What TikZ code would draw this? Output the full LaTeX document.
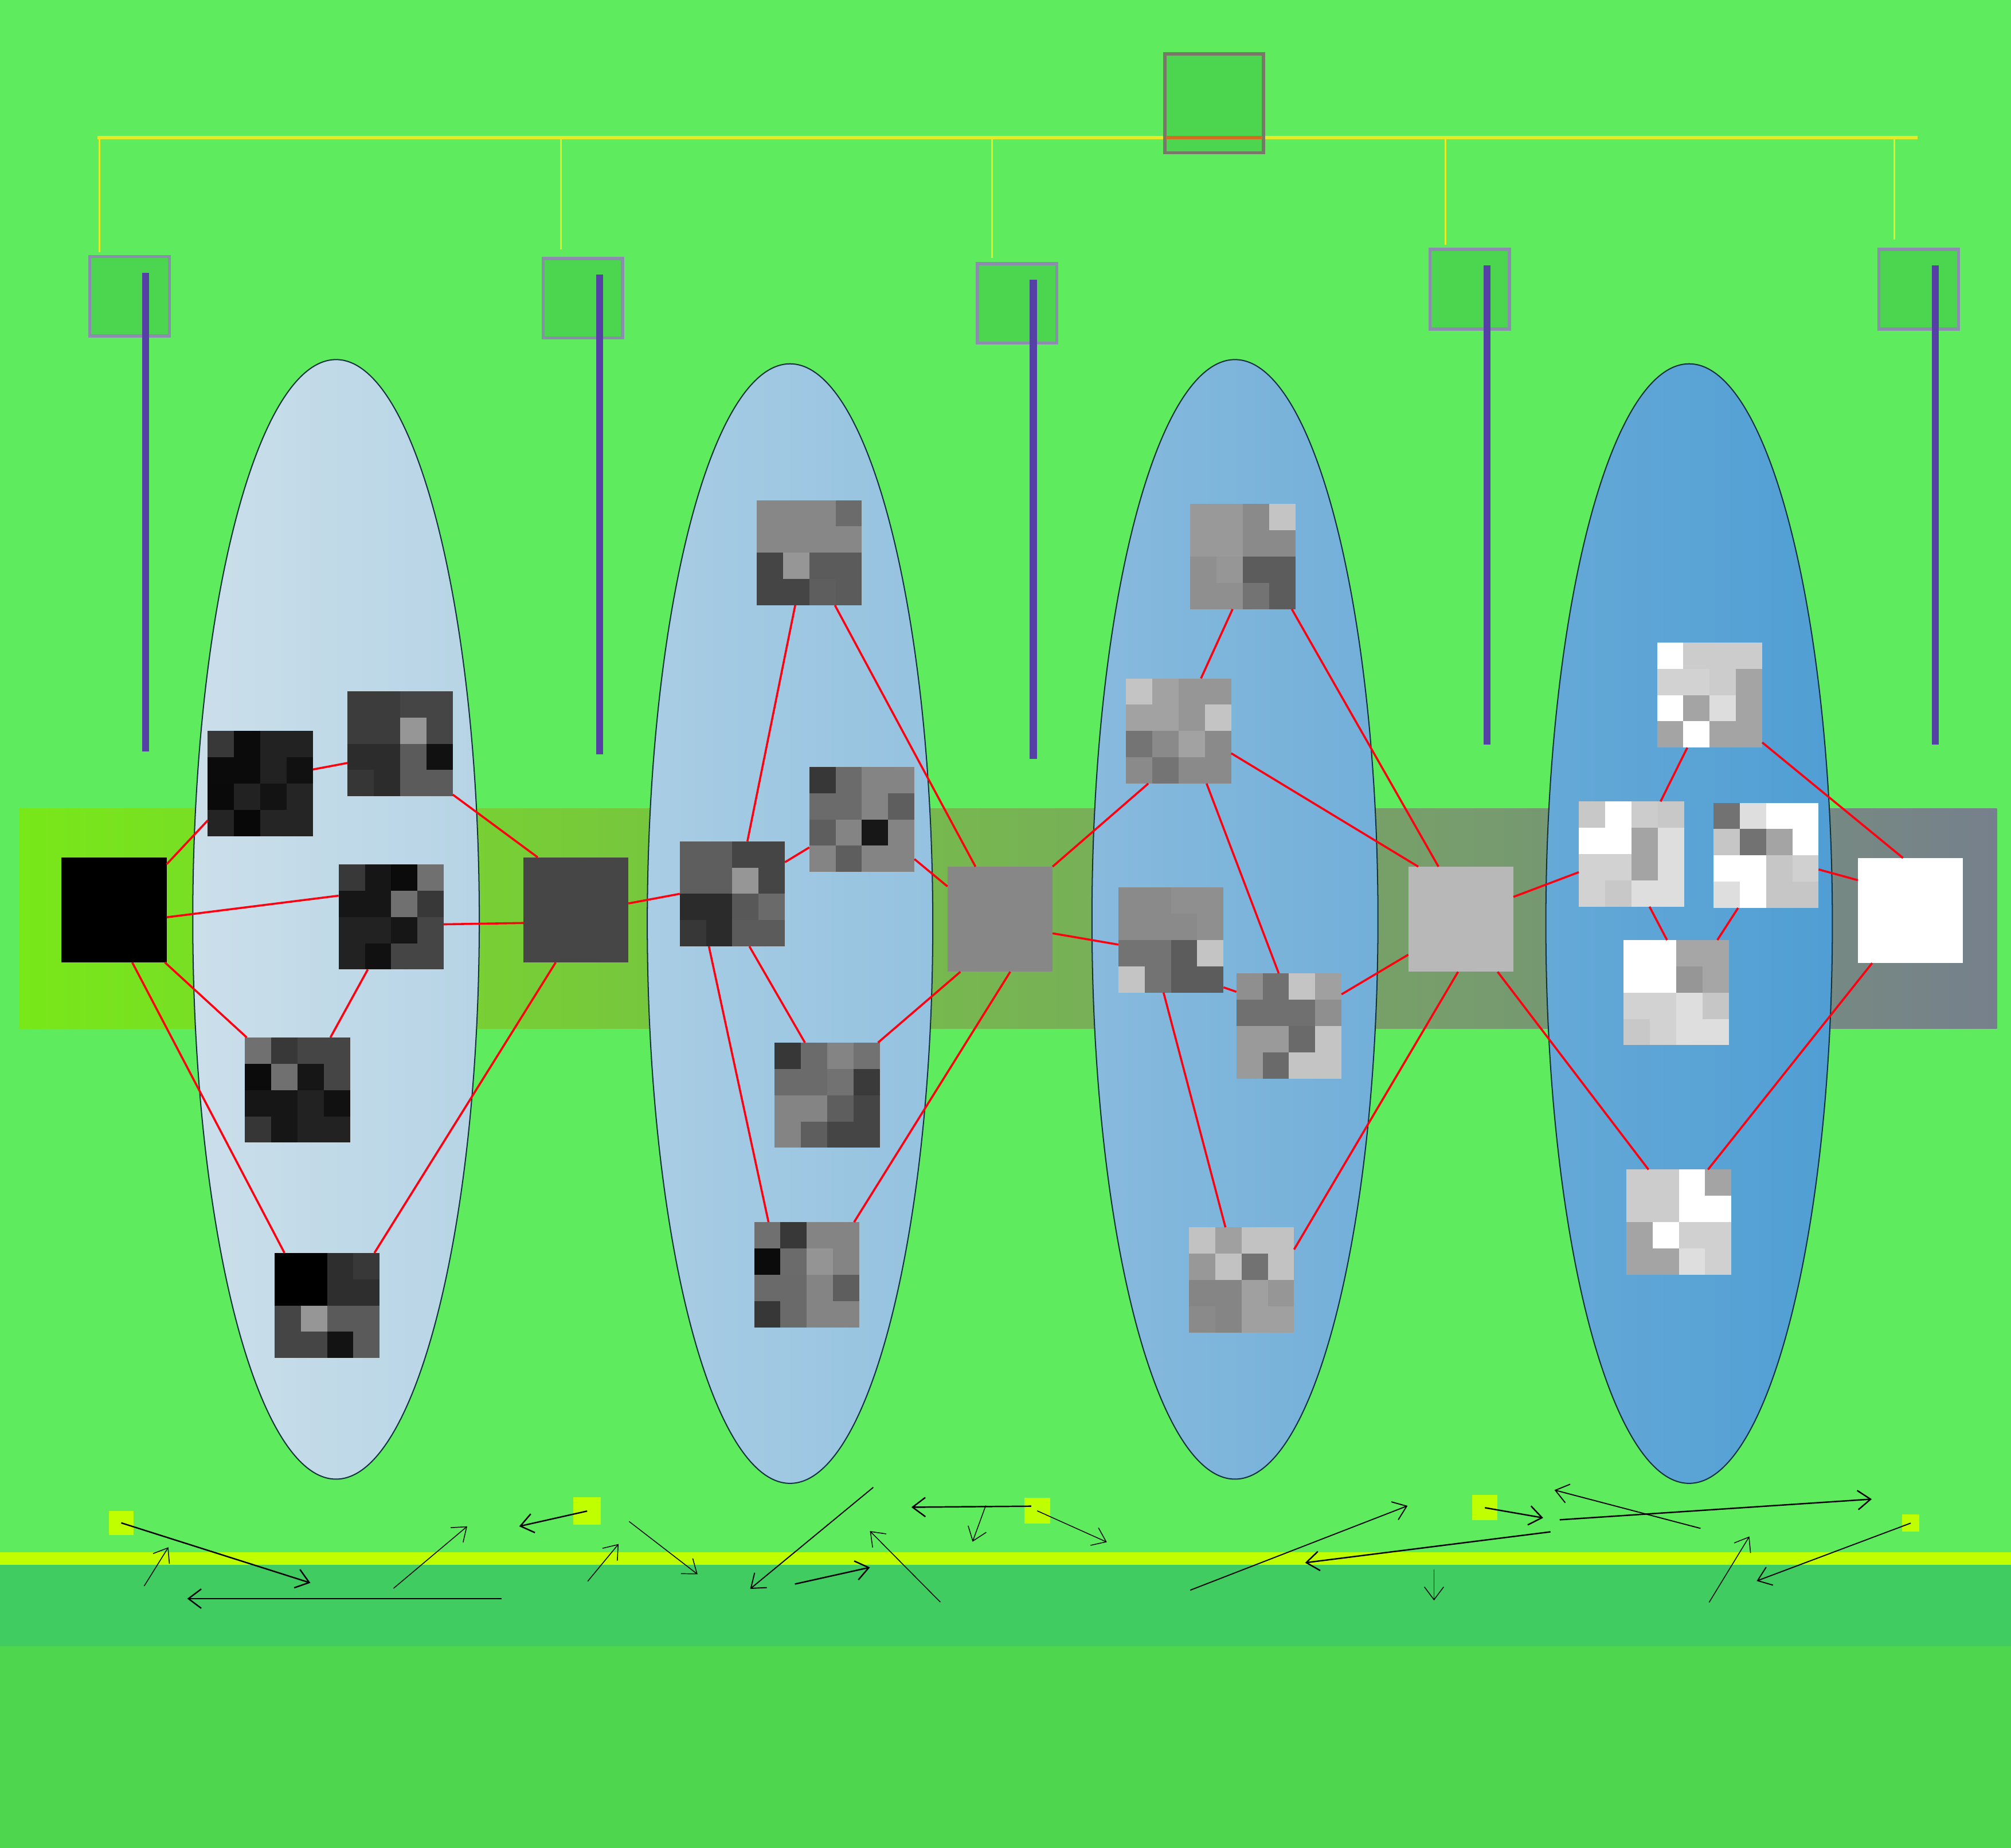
\documentclass[tikz,border=0pt]{standalone}
\usetikzlibrary{arrows.meta,calc}
\definecolor{bg}{RGB}{94,236,94}
\definecolor{bandA}{RGB}{64,204,96}
\definecolor{bandB}{RGB}{78,214,78}
\definecolor{ylw}{RGB}{192,255,0}
\definecolor{bandL}{RGB}{120,232,25}
\definecolor{bandR}{RGB}{118,128,140}
\definecolor{boxfill}{RGB}{76,214,80}
\definecolor{topborder}{RGB}{120,120,104}
\definecolor{boxborder}{RGB}{140,140,175}
\definecolor{treeline}{RGB}{230,235,40}
\definecolor{orangeline}{RGB}{210,110,32}
\definecolor{purp}{RGB}{85,65,165}
\definecolor{ellborder}{RGB}{20,50,60}
\definecolor{eA}{RGB}{203,223,234}
\definecolor{eB}{RGB}{182,212,230}
\definecolor{eC}{RGB}{169,205,228}
\definecolor{eD}{RGB}{148,194,224}
\definecolor{eE}{RGB}{136,186,221}
\definecolor{eF}{RGB}{114,175,217}
\definecolor{eG}{RGB}{101,169,215}
\definecolor{eH}{RGB}{80,158,212}
\definecolor{sqdark}{RGB}{70,70,70}
\definecolor{sqgray}{RGB}{135,135,135}
\definecolor{sqlight}{RGB}{184,184,184}
\definecolor{edgered}{RGB}{255,0,16}
\tikzset{
  tilebox/.style={minimum size=82pt,inner sep=0pt,outer sep=0pt,draw=none},
  bigsq/.style={minimum size=82pt,inner sep=0pt,outer sep=0pt,draw=none},
  smallbox/.style={minimum size=62pt,inner sep=0pt,fill=boxfill,draw=boxborder,line width=2.5pt},
  topbox/.style={minimum size=77pt,inner sep=0pt,fill=boxfill,draw=topborder,line width=2.5pt},
  marker/.style={inner sep=0pt,outer sep=0pt,fill=ylw,draw=none},
  edge/.style={draw=edgered,line width=1.6pt},
  ell/.style={draw=ellborder,line width=0.9pt},
  arr/.style={-{Straight Barb[length=10pt,width=15pt]},line width=0.65pt,black},
  arrm/.style={arr,line width=0.85pt},
  arrt/.style={arr,line width=1.1pt},
  purpline/.style={draw=purp,line width=5.5pt},
  drop/.style={draw=treeline,line width=1.5pt}
}
\newcommand\mytile[4]{%
  \node[tilebox] (#1) at (#2,#3) {};
  \foreach \gv [count=\ii from 0] in {#4} {
    \pgfmathtruncatemacro\cc{mod(\ii,4)}
    \pgfmathtruncatemacro\rr{div(\ii,4)}
    \definecolor{tcc}{HTML}{\gv\gv\gv}
    \fill[tcc] ($(#1.north west)+(\cc*20.5,\rr*20.5)$) rectangle ++(20.5,20.5);
  }
}
\begin{document}
\begin{tikzpicture}[x=1pt,y=-1pt]
\useasboundingbox (0,0) rectangle (1568,1441.05);
% background layers
\fill[bg] (0,0) rectangle (1568,1441.05);
\fill[bandA] (0,1220.3) rectangle (1568,1283.7);
\fill[bandB] (0,1283.7) rectangle (1568,1441.05);
\fill[ylw] (0,1210.5) rectangle (1568,1220.3);
% horizontal band
\shade[left color=bandL,right color=bandR] (15,630.4) rectangle (1557,802);
% ellipses
\shadedraw[ell,left color=eA,right color=eB] (262,716.9) ellipse [x radius=111.7pt,y radius=436.5pt];
\shadedraw[ell,left color=eC,right color=eD] (616,720.2) ellipse [x radius=111.3pt,y radius=436.5pt];
\shadedraw[ell,left color=eE,right color=eF] (962.9,716.9) ellipse [x radius=111.5pt,y radius=436.5pt];
\shadedraw[ell,left color=eG,right color=eH] (1317,720.2) ellipse [x radius=111.7pt,y radius=436.5pt];
% tiles
\mytile{tA}{203}{611}{38,0B,22,22,0B,0B,22,11,0A,22,13,25,24,08,25,25}
\mytile{tB}{312}{580}{3C,3C,45,45,3C,3C,96,45,2C,2C,5B,11,36,2C,5B,5B}
\mytile{tC}{305}{715}{38,16,0B,70,16,16,70,38,22,22,16,45,22,11,45,45}
\mytile{tD}{232}{850}{70,38,45,45,0B,70,16,45,16,16,22,11,36,16,22,22}
\mytile{tE}{255}{1018}{00,00,2E,38,00,00,2E,2E,45,96,5A,5A,45,45,13,5A}
\mytile{tF}{631}{431}{87,87,87,6B,87,87,87,87,45,96,5B,5B,45,45,5E,5B}
\mytile{tG}{672}{639}{37,6B,84,84,6B,6B,84,5E,5E,84,17,84,84,5E,84,84}
\mytile{tH}{571}{697}{5E,5E,45,45,5E,5E,96,45,2B,2B,58,6A,37,2B,5B,5B}
\mytile{tI}{645}{854}{37,6B,84,72,6B,6B,72,3A,84,84,5E,45,84,5E,45,45}
\mytile{tJ}{629}{994}{70,38,84,84,0B,6B,94,84,6A,6A,84,5E,37,6A,84,84}
\mytile{tK}{969}{434}{99,99,8A,C4,99,99,8A,8A,8F,96,5C,5C,8F,8F,73,5C}
\mytile{tL}{919}{570}{C4,A2,96,96,A2,A2,96,C4,74,8A,A2,8A,8A,74,8A,8A}
\mytile{tM}{913}{733}{8A,8A,8F,8F,8A,8A,8A,8F,73,73,5C,C4,C4,73,5C,5C}
\mytile{tN}{1005}{800}{8F,70,C4,A0,70,70,70,8F,9A,9A,6A,C4,9A,6A,C4,C4}
\mytile{tO}{968}{998}{C2,A0,C2,C2,98,C2,72,C2,85,85,A0,96,8A,85,A0,A0}
\mytile{tP}{1333}{542}{FF,CC,CC,CC,D2,D2,CC,A4,FF,A4,DD,A4,A4,FF,A4,A4}
\mytile{tQ}{1272}{666}{C8,FF,CC,C8,FF,FF,A4,DE,D2,D2,A4,DE,D2,C8,DE,DE}
\mytile{tR}{1377}{667}{72,DE,FF,FF,C6,72,A4,FF,FF,FF,C6,D0,DE,FF,C6,C6}
\mytile{tS}{1307}{774}{FF,FF,A6,A6,FF,FF,96,A6,D2,D2,DE,C6,C8,D2,DE,DE}
\mytile{tT}{1309}{953}{CC,CC,FF,A4,CC,CC,FF,FF,A4,FF,D0,D0,A4,A4,DE,D0}
% big squares on the band
\node[bigsq,fill=black] (blk) at (89,709.5) {};
\node[bigsq,fill=sqdark] (dk) at (449,709.5) {};
\node[bigsq,fill=sqgray] (gy) at (779.7,716.8) {};
\node[bigsq,fill=sqlight] (lg) at (1139,716.8) {};
\node[bigsq,fill=white] (wh) at (1489.5,710) {};
% red edges
\draw[edge] (blk.41.7) -- (tA.215.7);
\draw[edge] (tA.15.8) -- (tB.200);
\draw[edge] (tB.316.6) -- (dk.126.1);
\draw[edge] (blk.352.6) -- (tC.158.4);
\draw[edge] (tC.352.8) -- (dk.194.6);
\draw[edge] (blk.314.3) -- (tD.134.7);
\draw[edge] (tC.246.6) -- (tD.58.7);
\draw[edge] (blk.289.7) -- (tE.129.6);
\draw[edge] (tE.48.8) -- (dk.249.4);
\draw[edge] (dk.7.6) -- (tH.180);
\draw[edge] (tH.74.6) -- (tF.255);
\draw[edge] (tF.296.1) -- (gy.115.5);
\draw[edge] (tH.31.7) -- (tG.208.9);
\draw[edge] (tG.323.6) -- (gy.148.1);
\draw[edge] (tH.288.9) -- (tI.113.7);
\draw[edge] (tI.46) -- (gy.233.9);
\draw[edge] (tH.246.5) -- (tJ.126.9);
\draw[edge] (tJ.48.3) -- (gy.281.4);
\draw[edge] (gy.45.1) -- (tL.240.7);
\draw[edge] (gy.345.2) -- (tM.185.1);
\draw[edge] (tL.67.6) -- (tK.259.5);
\draw[edge] (tK.313.9) -- (lg.113.8);
\draw[edge] (tL.337.9) -- (lg.129.3);
\draw[edge] (tL.298.7) -- (tN.101.2);
\draw[edge] (tM.318.6) -- (tN.147.8);
\draw[edge] (tN.31.2) -- (lg.214.6);
\draw[edge] (tM.262.8) -- (tO.107);
\draw[edge] (tO.30) -- (lg.267.1);
\draw[edge] (lg.23.4) -- (tQ.199);
\draw[edge] (tQ.61.5) -- (tP.247.6);
\draw[edge] (tP.318.8) -- (wh.98.8);
\draw[edge] (tR.345.6) -- (wh.150.3);
\draw[edge] (tQ.289.7) -- (tS.100.8);
\draw[edge] (tR.242.3) -- (tS.52.8);
\draw[edge] (lg.305) -- (tT.120.2);
\draw[edge] (tT.61.7) -- (wh.234.1);
% top tree
\coordinate (tl0) at (76,107.2);
\coordinate (tl1) at (1495,107.2);
\draw[draw=treeline,line width=2.4pt] (tl0) -- (tl1);
\node[topbox] (tb) at (946.7,80.6) {};
\coordinate (tbl) at (909.2,107.2);
\coordinate (tbr) at (984.2,107.2);
\draw[draw=orangeline,line width=2.4pt] (tbl) -- (tbr);
\node[smallbox] (b1) at (101,231) {};
\node[smallbox] (b2) at (454.5,232.5) {};
\node[smallbox] (b3) at (793,236.5) {};
\node[smallbox] (b4) at (1146,225.5) {};
\node[smallbox] (b5) at (1496,225.5) {};
\coordinate (d1a) at (77.6,107.2); \coordinate (d1b) at (77.6,196.8);
\coordinate (d2a) at (437.5,107.2); \coordinate (d2b) at (437.5,194.6);
\coordinate (d3a) at (773.6,107.2); \coordinate (d3b) at (773.6,201);
\coordinate (d4a) at (1127,107.2); \coordinate (d4b) at (1127,191);
\coordinate (d5a) at (1477,107.2); \coordinate (d5b) at (1477,187);
\draw[drop] (d1a) -- (d1b);
\draw[drop] (d2a) -- (d2b);
\draw[drop] (d3a) -- (d3b);
\draw[drop] (d4a) -- (d4b);
\draw[drop] (d5a) -- (d5b);
\coordinate (p1a) at (113.6,212.8); \coordinate (p1b) at (113.6,586);
\coordinate (p2a) at (467.6,214); \coordinate (p2b) at (467.6,588);
\coordinate (p3a) at (805.6,218); \coordinate (p3b) at (805.6,591.7);
\coordinate (p4a) at (1159.5,207); \coordinate (p4b) at (1159.5,580.5);
\coordinate (p5a) at (1509,207); \coordinate (p5b) at (1509,580.5);
\draw[purpline] (p1a) -- (p1b);
\draw[purpline] (p2a) -- (p2b);
\draw[purpline] (p3a) -- (p3b);
\draw[purpline] (p4a) -- (p4b);
\draw[purpline] (p5a) -- (p5b);
% bottom markers
\node[marker,minimum width=19pt,minimum height=19pt] (sq1) at (94.5,1187.5) {};
\node[marker,minimum width=21.5pt,minimum height=21.5pt] (sq2) at (457.8,1178.3) {};
\node[marker,minimum width=20pt,minimum height=20pt] (sq3) at (808.7,1178.1) {};
\node[marker,minimum width=19.6pt,minimum height=19.6pt] (sq4) at (1157.8,1175.7) {};
\node[marker,minimum width=13.4pt,minimum height=13.4pt] (sq5) at (1489.8,1187.7) {};
% bottom arrows
\coordinate (a1e) at (242,1234.3);
\coordinate (a2s) at (112.4,1236.8); \coordinate (a2e) at (131.3,1206.5);
\coordinate (a3s) at (391,1246.6); \coordinate (a3e) at (146,1246.6);
\coordinate (a4s) at (306.8,1238.6); \coordinate (a4e) at (364.3,1190.2);
\coordinate (a5e) at (404.8,1190.2);
\coordinate (a6s) at (458.2,1233.1); \coordinate (a6e) at (482.3,1204);
\coordinate (a7s) at (490.5,1186.4); \coordinate (a7e) at (543.9,1227.6);
\coordinate (a8s) at (680.9,1159.8); \coordinate (a8e) at (584.9,1239);
\coordinate (a9s) at (619.8,1235.2); \coordinate (a9e) at (678.3,1222.2);
\coordinate (a10s) at (733.2,1249.3); \coordinate (a10e) at (678.3,1193.9);
\coordinate (a11s) at (804,1174.5); \coordinate (a11e) at (710.6,1175.3);
\coordinate (a12s) at (768.6,1174); \coordinate (a12e) at (758.3,1202.2);
\coordinate (a13e) at (863,1202.5);
\coordinate (a14s) at (928,1240); \coordinate (a14e) at (1097.5,1174.2);
\coordinate (a15e) at (1203.2,1183.6);
\coordinate (a16s) at (1208.9,1194.5); \coordinate (a16e) at (1017.6,1218.6);
\coordinate (a17s) at (1118.1,1223.7); \coordinate (a17e) at (1118.1,1248);
\coordinate (a18s) at (1325.9,1191.8); \coordinate (a18e) at (1212,1161.9);
\coordinate (a19s) at (1216.1,1185.1); \coordinate (a19e) at (1459.4,1169);
\coordinate (a20e) at (1369.7,1232.8);
\coordinate (a21s) at (1332.6,1249.5); \coordinate (a21e) at (1364,1198.1);
\draw[arrt] (sq1.center) -- (a1e);
\draw[arr] (a2s) -- (a2e);
\draw[arrt] (a3s) -- (a3e);
\draw[arr] (a4s) -- (a4e);
\draw[arrt] (sq2.center) -- (a5e);
\draw[arr] (a6s) -- (a6e);
\draw[arr] (a7s) -- (a7e);
\draw[arrm] (a8s) -- (a8e);
\draw[arrt] (a9s) -- (a9e);
\draw[arr] (a10s) -- (a10e);
\draw[arrt] (a11s) -- (a11e);
\draw[arr] (a12s) -- (a12e);
\draw[arr] (sq3.center) -- (a13e);
\draw[arrm] (a14s) -- (a14e);
\draw[arrt] (sq4.center) -- (a15e);
\draw[arrt] (a16s) -- (a16e);
\draw[arr] (a17s) -- (a17e);
\draw[arrm] (a18s) -- (a18e);
\draw[arrt] (a19s) -- (a19e);
\draw[arrm] (sq5.center) -- (a20e);
\draw[arr] (a21s) -- (a21e);
\end{tikzpicture}
\end{document}
